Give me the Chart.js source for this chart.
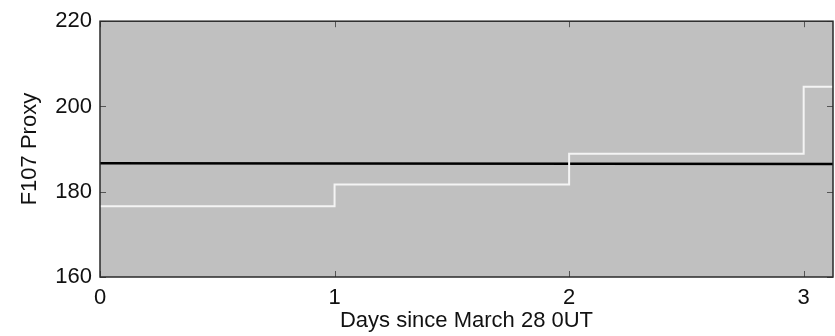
<!DOCTYPE html>
<html>
<head>
<meta charset="utf-8">
<script src="https://cdn.jsdelivr.net/npm/chart.js@4/dist/chart.umd.min.js"></script>
<style>
  html, body { margin: 0; padding: 0; background: #fff; }
  #wrap { width: 835px; height: 336px; }
</style>
</head>
<body>
<div id="wrap"><canvas id="myChart"></canvas></div>
<script>
// F10.7 proxy, daily steps
const proxyDays = [0, 1, 2, 3, 3.125];
const proxyValues = [176.6, 181.7, 188.9, 204.6, 204.6];

// reference level
const refDays = [0, 3.125];
const refValues = [186.7, 186.5];

const xTicks = [0, 1, 2, 3];
const yTicks = [160, 180, 200, 220];

const FONT = "'Liberation Sans', Arial, Helvetica, sans-serif";

function toPoints(xs, ys) {
  return xs.map((x, i) => ({ x: x, y: ys[i] }));
}

// gray plot background, box frame and inward ticks on all four sides
const framePlugin = {
  id: "frame",
  beforeDatasetsDraw(chart) {
    const { ctx, chartArea: a } = chart;
    ctx.save();
    ctx.fillStyle = "#c0c0c0";
    ctx.fillRect(a.left, a.top, a.right - a.left, a.bottom - a.top);
    ctx.restore();
  },
  afterDatasetsDraw(chart) {
    const { ctx, chartArea: a, scales } = chart;
    const len = 6;
    ctx.save();
    ctx.strokeStyle = "#555";
    ctx.lineWidth = 1;
    ctx.beginPath();
    xTicks.forEach((v) => {
      const px = Math.round(scales.x.getPixelForValue(v)) + 0.5;
      ctx.moveTo(px, a.bottom);
      ctx.lineTo(px, a.bottom - len);
      ctx.moveTo(px, a.top);
      ctx.lineTo(px, a.top + len);
    });
    yTicks.forEach((v) => {
      const py = Math.round(scales.y.getPixelForValue(v)) + 0.5;
      ctx.moveTo(a.left, py);
      ctx.lineTo(a.left + len, py);
      ctx.moveTo(a.right, py);
      ctx.lineTo(a.right - len, py);
    });
    ctx.stroke();
    ctx.strokeStyle = "#2a2a2a";
    ctx.lineWidth = 1.5;
    ctx.strokeRect(a.left, a.top, a.right - a.left, a.bottom - a.top);
    ctx.restore();
  },
};

const chart = new Chart(document.getElementById("myChart"), {
  type: "line",
  data: {
    datasets: [
      {
        label: "Proxy",
        data: toPoints(proxyDays, proxyValues),
        borderColor: "#f4f4f4",
        borderWidth: 2,
        stepped: "before",
        pointRadius: 0,
        fill: false,
      },
      {
        label: "Reference",
        data: toPoints(refDays, refValues),
        borderColor: "#000",
        borderWidth: 2.5,
        pointRadius: 0,
        fill: false,
      },
    ],
  },
  options: {
    responsive: true,
    maintainAspectRatio: false,
    animation: false,
    layout: { padding: { left: 0, right: 2, top: 18, bottom: 0 } },
    plugins: {
      legend: { display: false },
      tooltip: { enabled: false },
    },
    scales: {
      x: {
        type: "linear",
        min: 0,
        max: 3.125,
        afterFit: (s) => { s.height = 59; },
        afterBuildTicks: (s) => { s.ticks = xTicks.map((v) => ({ value: v })); },
        grid: { display: false, drawTicks: false },
        border: { display: false },
        ticks: {
          color: "#111",
          padding: 8,
          maxRotation: 0,
          font: { family: FONT, size: 22 },
        },
        title: {
          display: true,
          text: "Days since March 28 0UT",
          color: "#111",
          font: { family: FONT, size: 22 },
          padding: { top: 0, bottom: 2 },
        },
      },
      y: {
        min: 160,
        max: 220,
        afterFit: (s) => { s.width = 100; },
        afterBuildTicks: (s) => { s.ticks = yTicks.map((v) => ({ value: v })); },
        grid: { display: false, drawTicks: false },
        border: { display: false },
        ticks: {
          color: "#111",
          padding: 8,
          font: { family: FONT, size: 22 },
        },
        title: {
          display: true,
          text: "F107 Proxy",
          color: "#111",
          font: { family: FONT, size: 22 },
          padding: { top: 17, bottom: 0 },
        },
      },
    },
  },
  plugins: [framePlugin],
});
</script>
</body>
</html>
